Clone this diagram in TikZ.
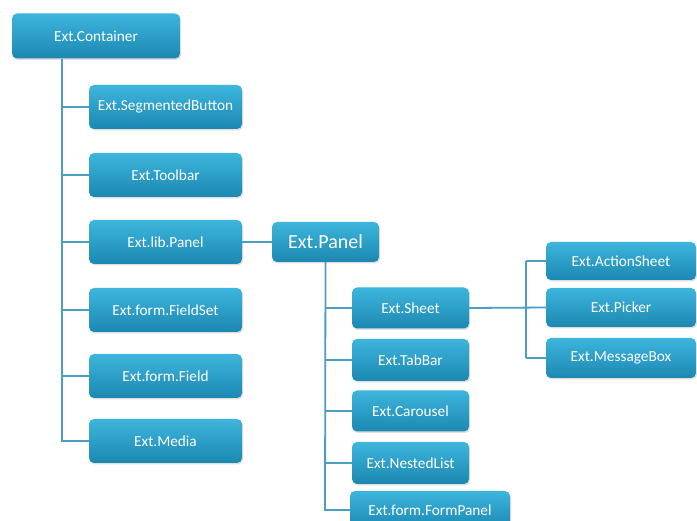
\documentclass[tikz,border=0pt]{standalone}
\usepackage{fontspec}
\setmainfont{Carlito}
\usetikzlibrary{shadows}
\definecolor{boxtop}{HTML}{3DB5DC}
\definecolor{boxbot}{HTML}{1C88B2}
\definecolor{wire}{HTML}{4A9EC0}
\tikzset{
  cls/.style={rounded corners=5pt, top color=boxtop, bottom color=boxbot,
    draw=none, text=white, font=\fontsize{15.3}{18}\selectfont,
    minimum height=44pt, inner sep=0pt,
    drop shadow={shadow xshift=1pt, shadow yshift=-1.5pt, opacity=0.25}},
  link/.style={draw=wire, line width=1.8pt},
}
\begin{document}
\begin{tikzpicture}[x=1pt,y=-1pt]
\useasboundingbox (0,0) rectangle (697,521);
\clip (0,0) rectangle (697,521);
\fill[white] (0,0) rectangle (697,521);

% root and its children
\node[cls, minimum width=168pt, minimum height=45pt] (cont) at (96,36) {Ext.Container};
\node[cls, minimum width=153pt] (seg) at (165.5,107) {Ext.SegmentedButton};
\node[cls, minimum width=153pt] (tool) at (165.5,175) {Ext.Toolbar};
\node[cls, minimum width=153pt] (lib) at (165.5,242) {Ext.lib.Panel};
\node[cls, minimum width=153pt] (fset) at (165.5,310) {Ext.form.FieldSet};
\node[cls, minimum width=153pt] (field) at (165.5,376) {Ext.form.Field};
\node[cls, minimum width=153pt] (media) at (165.5,441) {Ext.Media};

% Ext.Panel and its children
\node[cls, minimum width=107pt, minimum height=40pt, font=\fontsize{20}{22}\selectfont] (panel) at (325.5,242) {Ext.Panel};
\node[cls, minimum width=117pt, minimum height=41pt] (sheet) at (410.5,308) {Ext.Sheet};
\node[cls, minimum width=117pt, minimum height=42pt] (tab) at (410.5,360) {Ext.TabBar};
\node[cls, minimum width=117pt, minimum height=41pt] (car) at (410.5,411) {Ext.Carousel};
\node[cls, minimum width=117pt, minimum height=42pt] (nest) at (410.5,463) {Ext.NestedList};
\node[cls, minimum width=160pt, minimum height=38pt] (form) at (430,510) {Ext.form.FormPanel};

% Ext.Sheet subclasses
\node[cls, minimum width=150pt, minimum height=38pt] (act) at (621,261) {Ext.ActionSheet};
\node[cls, minimum width=150pt, minimum height=39pt] (pick) at (621,307.5) {Ext.Picker};
\node[cls, minimum width=150pt, minimum height=40pt] (msg) at (621,358) {Ext.MessageBox};

% connectors
\coordinate (t1) at (62,58);
\draw[link] (cont.south -| t1) -- (t1 |- media.west) -- (media.west);
\foreach \n in {seg,tool,lib,fset,field} \draw[link] (t1 |- \n.west) -- (\n.west);
\draw[link] (lib.east) -- (panel.west);
\coordinate (t2) at (325,262);
\draw[link] (panel.south) -- (t2 |- form.west) -- (form.west);
\foreach \n in {sheet,tab,car,nest} \draw[link] (t2 |- \n.west) -- (\n.west);
\coordinate (t3) at (526,308);
\draw[link] (sheet.east) -- (pick.west);
\draw[link] (t3 |- act.west) -- (t3 |- msg.west);
\draw[link] (t3 |- act.west) -- (act.west);
\draw[link] (t3 |- msg.west) -- (msg.west);
\end{tikzpicture}
\end{document}
